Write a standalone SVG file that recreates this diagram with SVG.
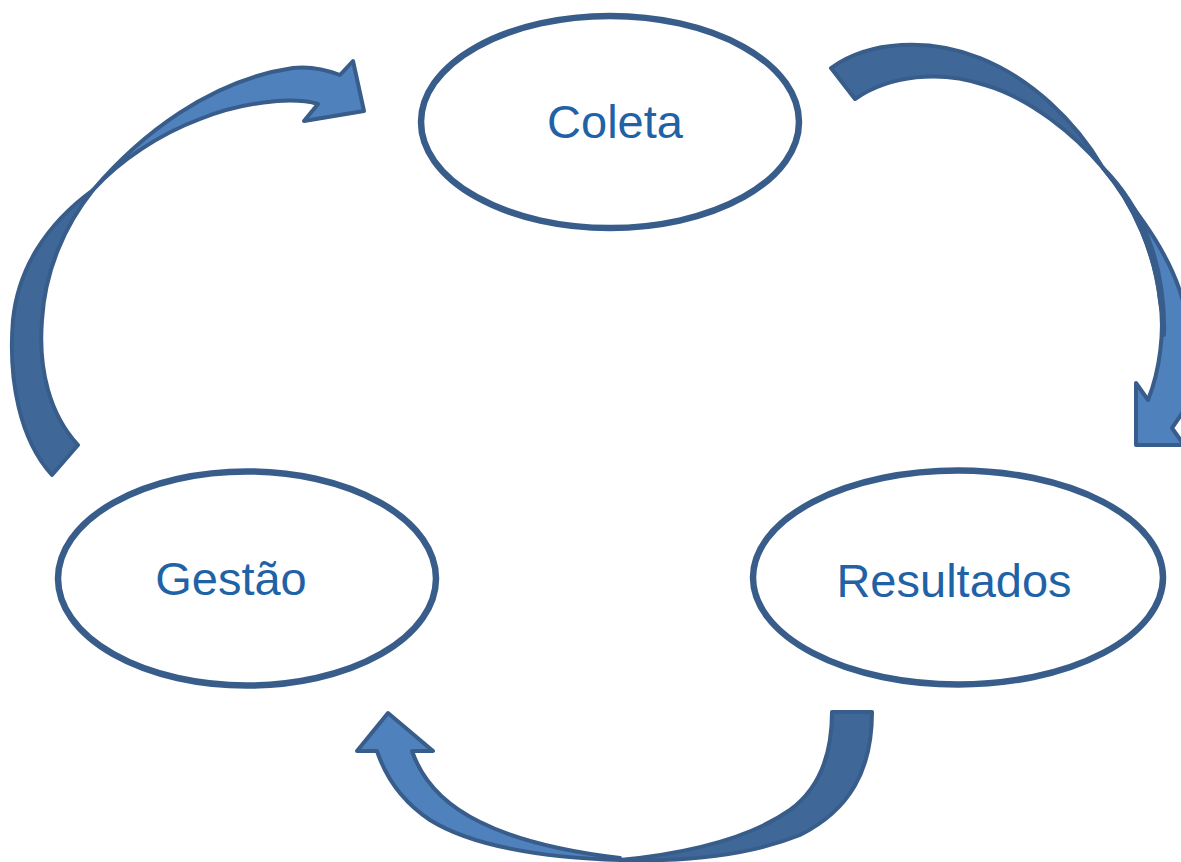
<svg xmlns="http://www.w3.org/2000/svg" width="1181" height="862" viewBox="0 0 1181 862">
<style>
.node{fill:#ffffff;stroke:#385d8a;stroke-width:6.5}
.lbl{font-family:"Liberation Sans",Arial,sans-serif;font-size:47px;fill:#1f62a5;text-anchor:middle}
.dk{fill:#3f6898;stroke:#385d8a;stroke-width:4;stroke-linejoin:round}
.lt{fill:#4f81bd;stroke:#385d8a;stroke-width:4;stroke-linejoin:round}
</style>
<rect width="1181" height="862" fill="#ffffff"/>
<g id="connectors">
<g id="arrow-coleta-resultados">
<path class="dk" d="M831,68 C870,40 930,38 980,58 C1030,78 1075,120 1103,168 C1075,135 1030,98 985,85 C940,70 890,75 855,99 Z"/>
<path class="lt" d="M1103,168 C1140,215 1175,260 1185,310 C1195,360 1190,400 1181,415 L1172,428 L1184,445 L1136,445 L1136,383 L1148,400 C1160,370 1165,330 1160,300 C1155,255 1135,205 1103,168 Z"/>
<path class="dk" d="M1103,168 C1140,205 1166,262 1164,335 C1163,320 1162,310 1160,300 C1155,255 1135,205 1103,168 Z"/>
</g>
<g id="arrow-resultados-gestao">
<path class="dk" d="M832,712 L872,712 C872,770 850,810 800,835 C750,855 690,862 620,860 C690,853 750,838 790,810 C820,788 832,755 832,712 Z"/>
<path class="lt" d="M620,860 C540,858 470,845 430,820 C400,800 385,775 377,751 L357,751 L388,713 L433,751 L412,751 C422,780 445,805 480,822 C520,842 570,852 620,858 Z"/>
</g>
<g id="arrow-gestao-coleta">
<path class="dk" d="M52,475 C20,440 8,380 13,320 C18,270 45,225 93,190 C65,225 45,270 42,320 C38,370 50,415 78,445 Z"/>
<path class="lt" d="M93,190 C140,135 210,80 293,68 C310,66 327,70 340,75 L353,61 L364,111 L304,121 L318,104 C290,96 240,103 200,119 C160,134 120,160 93,190 Z"/>
</g>
</g>
<g id="node-coleta">
<ellipse class="node" cx="610" cy="122" rx="189" ry="106"/>
<text class="lbl" x="615" y="138">Coleta</text>
</g>
<g id="node-gestao">
<ellipse class="node" cx="247" cy="578.5" rx="189" ry="107"/>
<text class="lbl" x="231" y="595">Gestão</text>
</g>
<g id="node-resultados">
<ellipse class="node" cx="958" cy="577.5" rx="205" ry="107"/>
<text class="lbl" x="954" y="597">Resultados</text>
</g>
</svg>
